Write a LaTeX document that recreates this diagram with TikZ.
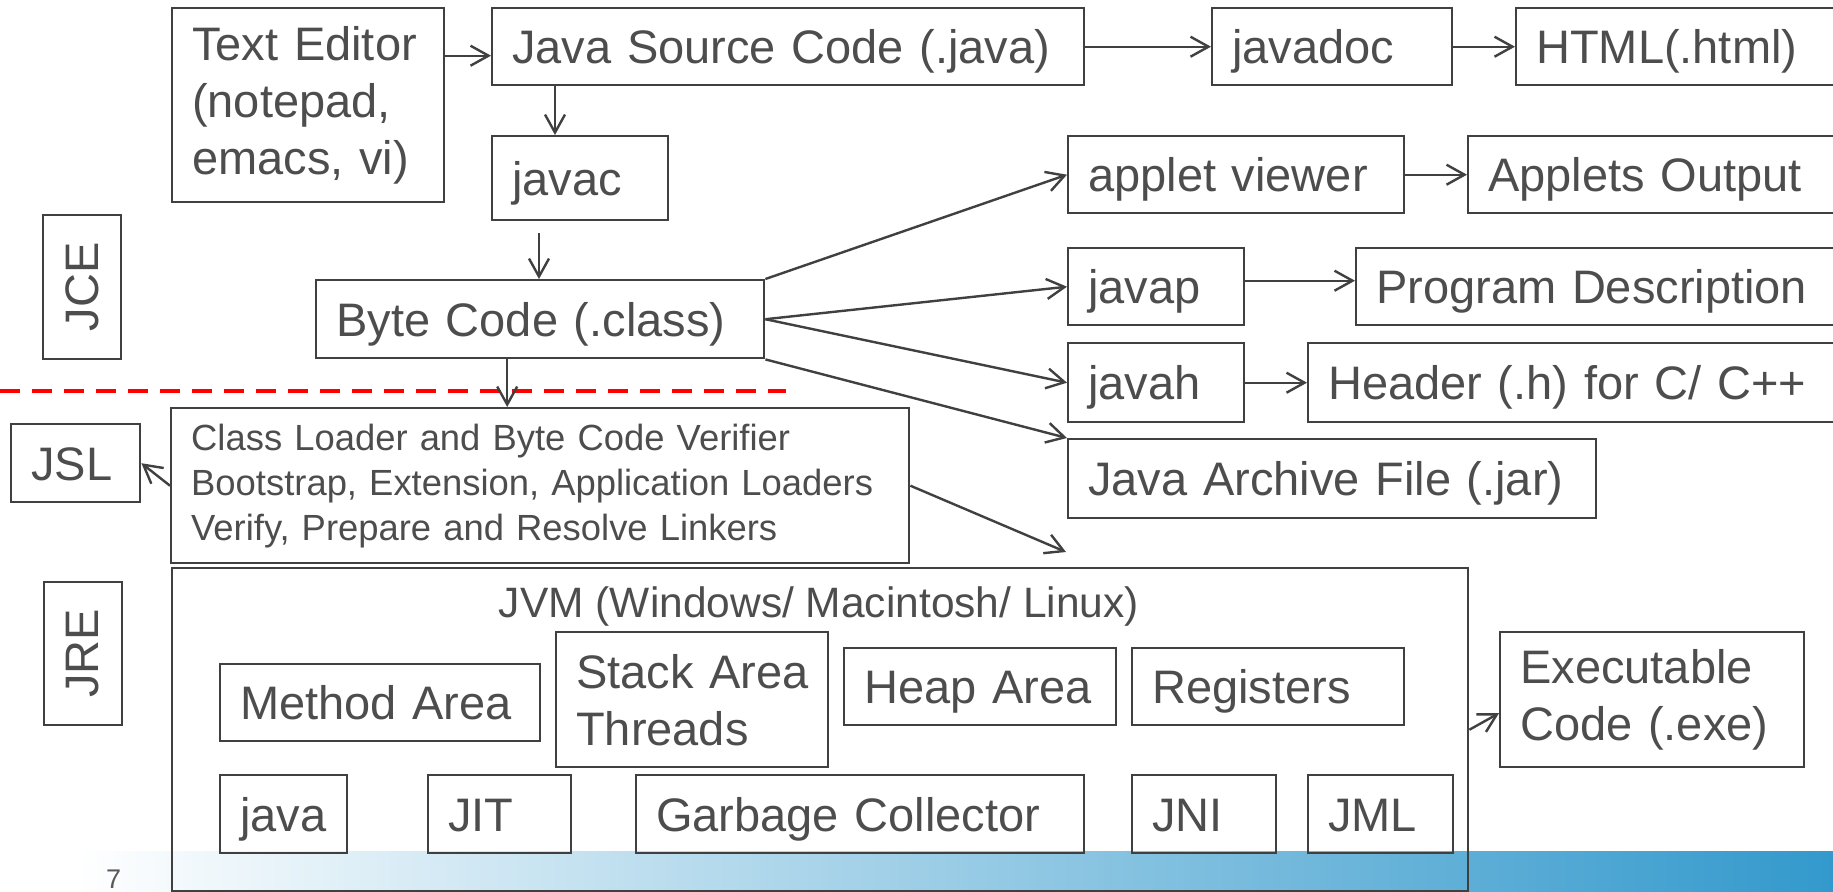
\documentclass[tikz,border=0pt]{standalone}
\usepackage{fontspec}
\setmainfont{Liberation Sans}
\usepackage{tikz}
\usetikzlibrary{arrows.meta}

\definecolor{linegray}{RGB}{64,64,64}
\definecolor{textgray}{RGB}{77,77,77}
\definecolor{pagegray}{RGB}{89,89,89}
\definecolor{gradblue}{RGB}{51,153,204}
\definecolor{midblue}{RGB}{178,204,228}

\newcommand{\boxfont}{\fontsize{23.5pt}{28.5pt}\selectfont}
\newcommand{\loaderfont}{\fontsize{18.2pt}{22.5pt}\selectfont}
\newcommand{\jvmfont}{\fontsize{21.25pt}{25pt}\selectfont}

\tikzstyle{box} = [rectangle, draw=linegray, line width=1.2pt, anchor=north west, align=left, inner xsep=10pt, inner ysep=0pt, text=textgray, font=\boxfont, text height=16.8pt, text depth=0pt]
\tikzstyle{multi} = [text height=, text depth=]
\tikzstyle{side} = [rectangle, draw=linegray, line width=1.2pt, rotate=90, inner sep=0pt, text=textgray, font=\boxfont]
\tikzstyle{arr} = [->, draw=linegray, line width=1.2pt]

\begin{document}
\begin{tikzpicture}[x=0.5pt, y=-0.5pt, >={Straight Barb[length=9pt,width=10pt]}]
\useasboundingbox (0,0) rectangle (1833,891);
\clip (0,0) rectangle (1833,891);

% footer band
\shade[left color=white, middle color=midblue, right color=gradblue] (75,851) rectangle (1833,891);
\node (pagenum) [anchor=base west, text=pagegray, font=\fontsize{13.5pt}{16pt}\selectfont] at (99,888) {7};

% JCE / JSL / JRE
\node (jce) [side, minimum width=72pt, minimum height=39pt] at (82,287) {JCE};
\node (jsl) [box, text width=44.5pt, minimum height=39pt] at (10,423) {JSL};
\node (jre) [side, minimum width=71.5pt, minimum height=39pt] at (83,653.5) {JRE};

% compile path
\node (editor) [box, multi, text width=116pt, minimum height=97pt] at (171,7) {Text~Editor\\(notepad,\\emacs,~vi)};
\node (source) [box, text width=276pt, minimum height=38.5pt] at (491,7) {Java Source Code (.java)};
\node (javadoc) [box, text width=100pt, minimum height=38.5pt] at (1211,7) {javadoc};
\node (html) [box, text width=147.5pt, minimum height=38.5pt] at (1515,7) {HTML(.html)};
\node (javac) [box, text width=68pt, minimum height=42pt] at (491,135) {javac};
\node (bytecode) [box, text width=204pt, minimum height=39pt] at (315,279) {Byte Code (.class)};

% tools on the byte code
\node (viewer) [box, text width=148pt, minimum height=38.5pt] at (1067,135) {applet~viewer};
\node (applets) [box, text width=171.5pt, minimum height=38.5pt] at (1467,135) {Applets~Output};
\node (javap) [box, text width=68pt, minimum height=38.5pt] at (1067,247) {javap};
\node (progdesc) [box, text width=227.5pt, minimum height=38.5pt] at (1355,247) {Program~Description};
\node (javah) [box, text width=68pt, minimum height=39.5pt] at (1067,342) {javah};
\node (header) [box, text width=251.5pt, minimum height=39.5pt] at (1307,342) {Header (.h) for C/ C++};
\node (jar) [box, text width=244pt, minimum height=39.5pt] at (1067,438) {Java Archive File (.jar)};

% loader and JVM
\node (loader) [box, multi, text width=349pt, minimum height=77.5pt, font=\loaderfont] at (170,407) {Class Loader and Byte Code Verifier\\Bootstrap, Extension, Application~Loaders\\Verify, Prepare and Resolve Linkers};
\node (jvm) [box, minimum width=648pt, minimum height=161.5pt] at (171,567) {};
\node (jvmlabel) [anchor=base, text=textgray, font=\jvmfont] at (819,617) {JVM (Windows/ Macintosh/ Linux)};
\node (method) [box, text width=140pt, minimum height=38.5pt] at (219,663) {Method~Area};
\node (stack) [box, multi, text width=116pt, minimum height=67.5pt] at (555,631) {Stack~Area\\Threads};
\node (heap) [box, text width=116pt, minimum height=38.5pt] at (843,647) {Heap~Area};
\node (registers) [box, text width=116pt, minimum height=38.5pt] at (1131,647) {Registers};
\node (java) [box, text width=43.5pt, minimum height=39pt] at (219,774) {java};
\node (jit) [box, text width=51.5pt, minimum height=39pt] at (427,774) {JIT};
\node (gc) [box, text width=204pt, minimum height=39pt] at (635,774) {Garbage~Collector};
\node (jni) [box, text width=52pt, minimum height=39pt] at (1131,774) {JNI};
\node (jml) [box, text width=52.5pt, minimum height=39pt] at (1307,774) {JML};
\node (exe) [box, multi, text width=132pt, minimum height=67.5pt] at (1499,631) {Executable\\Code~(.exe)};
\coordinate (jvmin) at (1066,552);

% JCE / JRE border
\draw[red, line width=1.75pt, dash pattern=on 10pt off 6pt] (0,391) -- (786,391);

% arrows
\draw[arr] ([yshift=-4.5pt]editor.east |- source.west) -- ([yshift=-4.5pt]source.west);
\draw[arr] (source.east) -- (javadoc.west);
\draw[arr] (javadoc.east) -- (html.west);
\draw[arr] ([xshift=32pt]source.south west) -- ([xshift=32pt]javac.north west);
\draw[arr] ([xshift=24pt,yshift=-6pt]javac.south west) -- ([xshift=24pt]javac.south west |- bytecode.north);
\draw[arr] (viewer.east) -- (applets.west);
\draw[arr] ([yshift=3pt]javap.east) -- ([yshift=3pt]progdesc.west);
\draw[arr] (javah.east) -- (header.west);
\draw[arr] (bytecode.north east) -- (viewer.west);
\draw[arr] (bytecode.east) -- (javap.west);
\draw[arr] (bytecode.east) -- (javah.west);
\draw[arr] (bytecode.south east) -- (jar.north west);
\draw[arr] ([xshift=-16.5pt]bytecode.south) -- ([xshift=-16.5pt]bytecode.south |- loader.north);
\draw[arr] (loader.west) -- (jsl.east);
\draw[arr] (loader.east) -- (jvmin);
\draw[arr] (jvm.east) -- ([yshift=-6.75pt]exe.west);

\end{tikzpicture}
\end{document}
